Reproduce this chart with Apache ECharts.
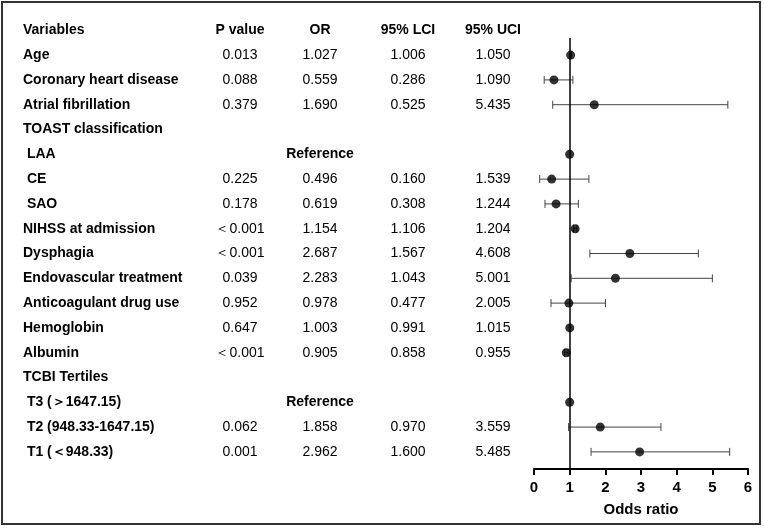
<!DOCTYPE html>
<html>
<head>
<meta charset="utf-8">
<script src="https://cdn.jsdelivr.net/npm/echarts@6/dist/echarts.min.js"></script>
<style>html,body{margin:0;padding:0;background:#fff}#c{width:764px;height:528px}</style>
</head>
<body>
<div id="c"></div>
<script>
const headers = ['Variables', 'P value', 'OR', '95% LCI', '95% UCI'];
const variables = ['Age', 'Coronary heart disease', 'Atrial fibrillation', 'TOAST classification', ' LAA', ' CE', ' SAO', 'NIHSS at admission', 'Dysphagia', 'Endovascular treatment', 'Anticoagulant drug use', 'Hemoglobin', 'Albumin', 'TCBI Tertiles', ' T3 (＞1647.15)', ' T2 (948.33-1647.15)', ' T1 (＜948.33)'];
const pValues = ['0.013', '0.088', '0.379', '', '', '0.225', '0.178', '＜0.001', '＜0.001', '0.039', '0.952', '0.647', '＜0.001', '', '', '0.062', '0.001'];
const orText = ['1.027', '0.559', '1.690', '', 'Reference', '0.496', '0.619', '1.154', '2.687', '2.283', '0.978', '1.003', '0.905', '', 'Reference', '1.858', '2.962'];
const orValues = [1.027, 0.559, 1.690, null, 1, 0.496, 0.619, 1.154, 2.687, 2.283, 0.978, 1.003, 0.905, null, 1, 1.858, 2.962];
const lciValues = [1.006, 0.286, 0.525, null, null, 0.160, 0.308, 1.106, 1.567, 1.043, 0.477, 0.991, 0.858, null, null, 0.970, 1.600];
const uciValues = [1.050, 1.090, 5.435, null, null, 1.539, 1.244, 1.204, 4.608, 5.001, 2.005, 1.015, 0.955, null, null, 3.559, 5.485];
const xTicks = [0, 1, 2, 3, 4, 5, 6];

const fmt = v => v == null ? '' : v.toFixed(3);
const FONT = '"Liberation Sans", Arial, sans-serif';
const colX = [23, 240, 320, 408, 493];

const chart = echarts.init(document.getElementById('c'), null, {renderer: 'canvas'});

const tableRows = [-1].concat(variables.map((_, i) => i));

function tableItem(params, api) {
  const idx = api.value(0);
  const y = api.coord([0, idx])[1];
  let cells;
  if (idx < 0) {
    cells = headers;
  } else {
    cells = [variables[idx], pValues[idx], orText[idx], fmt(lciValues[idx]), fmt(uciValues[idx])];
  }
  const children = [];
  cells.forEach((t, c) => {
    if (!t) return;
    const isHeader = idx < 0;
    const isRef = t === 'Reference';
    children.push({
      type: 'text',
      x: colX[c], y: y,
      style: {
        text: t,
        x: 0, y: 0,
        fill: '#000',
        font: ((isHeader || c === 0 || isRef) ? 'bold ' : '') + '14px ' + FONT,
        textAlign: c === 0 ? 'left' : 'center',
        textVerticalAlign: 'middle'
      }
    });
  });
  return {type: 'group', children};
}

function errItem(params, api) {
  const idx = api.value(0);
  const lo = api.coord([api.value(1), idx]);
  const hi = api.coord([api.value(2), idx]);
  const h = 4;
  const st = {stroke: '#444', lineWidth: 1};
  return {
    type: 'group',
    children: [
      {type: 'line', shape: {x1: lo[0], y1: lo[1], x2: hi[0], y2: hi[1]}, style: st},
      {type: 'line', shape: {x1: lo[0], y1: lo[1] - h, x2: lo[0], y2: lo[1] + h}, style: st},
      {type: 'line', shape: {x1: hi[0], y1: hi[1] - h, x2: hi[0], y2: hi[1] + h}, style: st}
    ]
  };
}

const errData = [];
const dotData = [];
variables.forEach((_, i) => {
  if (lciValues[i] != null) errData.push([i, lciValues[i], uciValues[i]]);
  if (orValues[i] != null) dotData.push([orValues[i], i]);
});

chart.setOption({
  animation: false,
  backgroundColor: '#fff',
  textStyle: {fontFamily: FONT},
  grid: {left: 534, right: 16, top: 38, bottom: 59, containLabel: false},
  xAxis: {
    type: 'value', min: xTicks[0], max: xTicks[xTicks.length - 1], interval: 1,
    position: 'bottom',
    axisLine: {show: true, onZero: false, lineStyle: {color: '#000', width: 2}},
    axisTick: {show: true, length: 6, lineStyle: {color: '#000', width: 2}},
    axisLabel: {color: '#000', fontWeight: 'bold', fontSize: 15, fontFamily: FONT, margin: 11},
    splitLine: {show: false},
    name: 'Odds ratio', nameLocation: 'middle', nameGap: 33,
    nameTextStyle: {color: '#000', fontWeight: 'bold', fontSize: 15, fontFamily: FONT}
  },
  yAxis: {
    type: 'value', inverse: true, min: -0.69, max: 16.69, show: false
  },
  graphic: [{
    type: 'rect', shape: {x: 2, y: 2, width: 758, height: 522},
    style: {fill: 'none', stroke: '#333', lineWidth: 2}, silent: true
  }],
  series: [
    {
      type: 'custom', renderItem: tableItem, clip: false,
      data: tableRows.map(r => [r]), encode: {y: 0}, silent: true
    },
    {
      type: 'custom', renderItem: errItem, clip: false,
      data: errData, encode: {x: [1, 2], y: 0}, silent: true
    },
    {
      type: 'scatter', data: dotData, symbol: 'circle', symbolSize: 9,
      itemStyle: {color: '#000'}, silent: true, z: 5,
      markLine: {
        silent: true, symbol: 'none', label: {show: false},
        lineStyle: {color: '#000', width: 1.5, type: 'solid'},
        data: [{xAxis: 1}]
      }
    }
  ]
});
</script>
</body>
</html>
